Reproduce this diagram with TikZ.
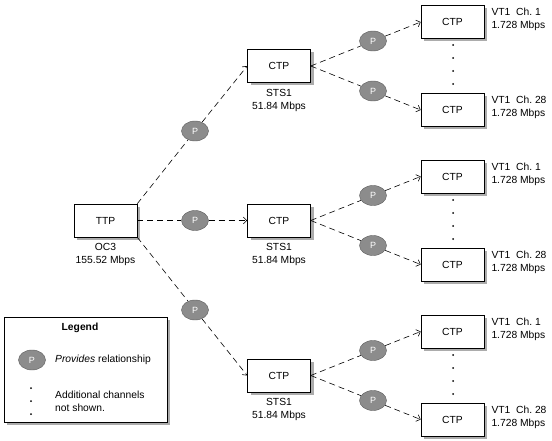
\documentclass[tikz,border=0pt]{standalone}
\usepackage{fontspec}
\setmainfont{Liberation Sans}
\usetikzlibrary{positioning, shapes.geometric, shadows, arrows.meta}

\definecolor{shadowgray}{RGB}{172,172,172}
\definecolor{pfill}{RGB}{140,140,140}
\definecolor{pdraw}{RGB}{96,96,96}

\tikzset{
  box/.style={rectangle, draw, line width=0.6pt, fill=white, minimum width=63pt, minimum height=33pt, inner sep=0pt,
    drop shadow={shadow xshift=3pt, shadow yshift=-3pt, fill=shadowgray, opacity=1}},
  provides/.style={ellipse, draw=pdraw, fill=pfill, text=white, minimum width=27pt, minimum height=20pt, inner sep=0pt,
    font=\fontsize{9}{10}\selectfont},
  link/.style={line width=0.6pt, dash pattern=on 6pt off 4pt},
  linkto/.style={link, -{Straight Barb[length=3.5pt, width=7pt]}},
  rate/.style={inner sep=0pt, align=center},
  vtrate/.style={inner sep=0pt, align=left, anchor=north west},
  chdot/.style={circle, fill, inner sep=0pt, minimum size=2pt},
}

\begin{document}
\begin{tikzpicture}[x=1pt, y=-1pt, font=\fontsize{10.3}{13}\selectfont]
\useasboundingbox (0, 0) rectangle (552, 441);

% OC3 trail termination point
\node at (105.5, 220.5) [box] (TTP) {TTP};
\node [rate, below=6pt of TTP] (TTPrate) {OC3\\155.52 Mbps};

% STS1 connection termination points
\node at (279, 66) [box] (STSa) {CTP};
\node at (279, 220.5) [box] (STSb) {CTP};
\node at (279, 375.5) [box] (STSc) {CTP};
\node [rate, below=6pt of STSa] (STSarate) {STS1\\51.84 Mbps};
\node [rate, below=6pt of STSb] (STSbrate) {STS1\\51.84 Mbps};
\node [rate, below=6pt of STSc] (STScrate) {STS1\\51.84 Mbps};

% VT1 channels
\node at (452.5, 22) [box] (VTa1) {CTP};
\node at (452.5, 110) [box] (VTa28) {CTP};
\node at (452.5, 176.5) [box] (VTb1) {CTP};
\node at (452.5, 264.5) [box] (VTb28) {CTP};
\node at (452.5, 331.5) [box] (VTc1) {CTP};
\node at (452.5, 419.5) [box] (VTc28) {CTP};
\node [vtrate] at ([shift={(7pt,-3pt)}]VTa1.north east) (VTa1rate) {VT1~~Ch.~1\\1.728 Mbps};
\node [vtrate] at ([shift={(7pt,-3pt)}]VTa28.north east) (VTa28rate) {VT1~~Ch.~28\\1.728 Mbps};
\node [vtrate] at ([shift={(7pt,-3pt)}]VTb1.north east) (VTb1rate) {VT1~~Ch.~1\\1.728 Mbps};
\node [vtrate] at ([shift={(7pt,-3pt)}]VTb28.north east) (VTb28rate) {VT1~~Ch.~28\\1.728 Mbps};
\node [vtrate] at ([shift={(7pt,-3pt)}]VTc1.north east) (VTc1rate) {VT1~~Ch.~1\\1.728 Mbps};
\node [vtrate] at ([shift={(7pt,-3pt)}]VTc28.north east) (VTc28rate) {VT1~~Ch.~28\\1.728 Mbps};

% channels not shown
\node at (453, 45) [chdot] (dota1) {};
\node at (453, 58) [chdot] (dota2) {};
\node at (453, 71) [chdot] (dota3) {};
\node at (453, 84) [chdot] (dota4) {};
\node at (453, 200) [chdot] (dotb1) {};
\node at (453, 213) [chdot] (dotb2) {};
\node at (453, 226) [chdot] (dotb3) {};
\node at (453, 239) [chdot] (dotb4) {};
\node at (453, 355) [chdot] (dotc1) {};
\node at (453, 368) [chdot] (dotc2) {};
\node at (453, 381) [chdot] (dotc3) {};
\node at (453, 394) [chdot] (dotc4) {};

% provides relationships
\node at (195, 131) [provides] (Pa) {P};
\node at (195, 220.5) [provides] (Pb) {P};
\node at (195, 310) [provides] (Pc) {P};
\node at (373, 41) [provides] (Pa1) {P};
\node at (373, 91) [provides] (Pa28) {P};
\node at (373, 195.5) [provides] (Pb1) {P};
\node at (373, 245.5) [provides] (Pb28) {P};
\node at (373, 350.5) [provides] (Pc1) {P};
\node at (373, 400.5) [provides] (Pc28) {P};

\draw[link] (TTP.north east) -- (Pa);
\draw[linkto] (Pa) -- (STSa.west);
\draw[link] (TTP.east) -- (Pb);
\draw[linkto] (Pb) -- (STSb.west);
\draw[link] (TTP.south east) -- (Pc);
\draw[linkto] (Pc) -- (STSc.west);

\draw[link] (STSa.east) -- (Pa1);
\draw[linkto] (Pa1) -- (VTa1.west);
\draw[link] (STSa.east) -- (Pa28);
\draw[linkto] (Pa28) -- (VTa28.west);
\draw[link] (STSb.east) -- (Pb1);
\draw[linkto] (Pb1) -- (VTb1.west);
\draw[link] (STSb.east) -- (Pb28);
\draw[linkto] (Pb28) -- (VTb28.west);
\draw[link] (STSc.east) -- (Pc1);
\draw[linkto] (Pc1) -- (VTc1.west);
\draw[link] (STSc.east) -- (Pc28);
\draw[linkto] (Pc28) -- (VTc28.west);

% legend
\node at (85.5, 369.5) [box, minimum width=163pt, minimum height=105pt] (legend) {};
\node at (80, 328) [inner sep=0pt, font=\fontsize{10.3}{13}\selectfont\bfseries] (legendtitle) {Legend};
\node at (32, 360) [provides] (legendP) {P};
\node at (55, 360) [anchor=west, inner sep=0pt] (legendPtext) {\textit{Provides} relationship};
\node at (31, 388) [chdot] (legenddot1) {};
\node at (31, 401) [chdot] (legenddot2) {};
\node at (31, 414) [chdot] (legenddot3) {};
\node at (55, 401) [anchor=west, inner sep=0pt, align=left] (legenddottext) {Additional channels\\not shown.};
\end{tikzpicture}
\end{document}
